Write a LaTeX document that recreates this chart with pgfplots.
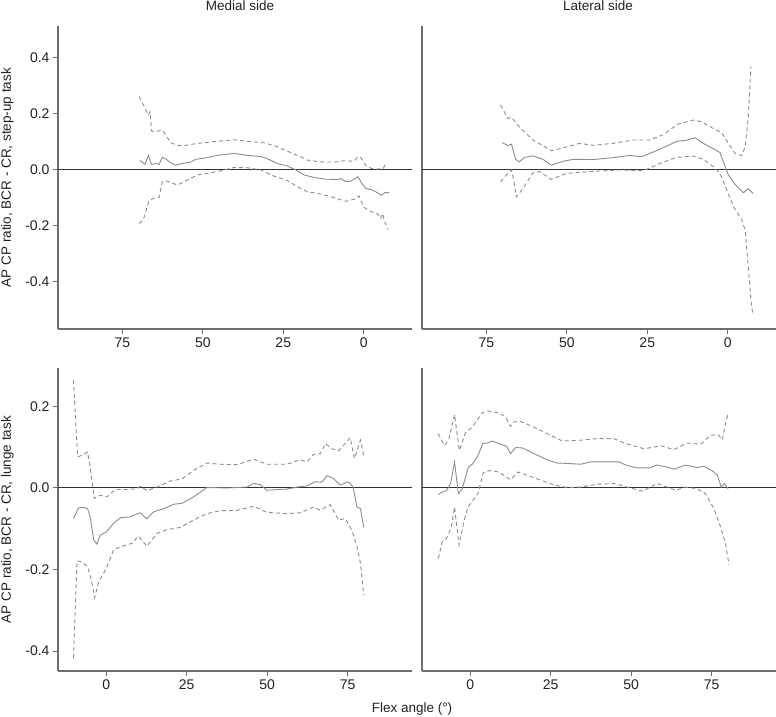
\documentclass[border=0pt]{standalone}
\usepackage{fontspec}
\setmainfont{Liberation Sans}
\usepackage{pgfplots}
\pgfplotsset{compat=1.18}
\definecolor{axc}{HTML}{6E6E6E}
\definecolor{datc}{HTML}{8C8C8C}
\definecolor{zc}{HTML}{333333}
\definecolor{txt}{HTML}{222222}
\pgfplotsset{
  panel/.style={scale only axis, width=354pt, height=303pt, anchor=south west,
    axis lines=left, axis line style={-, draw=axc, line width=1.2pt},
    tick align=outside, major tick length=5pt, tick style={draw=axc, line width=1pt},
    xmin=-15, xmax=95, xtick={0,25,50,75},
    /pgf/number format/assume math mode=true,
    ticklabel style={font=\fontsize{14}{16}\selectfont, text=txt}},
  toprow/.style={x dir=reverse, ymin=-0.570, ymax=0.512},
  botrow/.style={ymin=-0.449, ymax=0.294},
  mean/.style={datc, line width=0.9pt},
  ci/.style={datc, line width=0.9pt, dash pattern=on 4pt off 3pt},
  zero/.style={zc, line width=1pt},
}
\begin{document}
\begin{tikzpicture}
\path[use as bounding box] (0pt,0pt) rectangle (776pt,-716pt);
% ---------------- top left
\begin{axis}[panel, toprow, at={(58pt,-329pt)},
  ytick={-0.4,-0.2,0,0.2,0.4}, yticklabels={-0.4,-0.2,0.0,0.2,0.4}]
\addplot[zero] coordinates {(-15,0) (95,0)};
\addplot[mean] table {
69.5 0.032
68.0 0.018
66.9 0.050
66.0 0.018
64.5 0.021
63.6 0.017
62.6 0.043
61.5 0.037
60.0 0.024
58.4 0.015
56.4 0.021
53.8 0.026
52.2 0.036
49.6 0.040
45.5 0.050
40.3 0.057
36.2 0.050
32.0 0.046
29.9 0.038
26.8 0.021
23.7 0.012
21.1 -0.002
18.5 -0.020
15.4 -0.029
11.8 -0.035
8.2 -0.036
7.1 -0.033
5.6 -0.043
4.0 -0.042
2.8 -0.033
1.8 -0.026
0.7 -0.048
-0.6 -0.068
-2.7 -0.074
-4.2 -0.083
-5.5 -0.093
-6.5 -0.083
-7.9 -0.083
};
\addplot[ci] table {
69.8 0.260
67.7 0.212
66.9 0.194
66.4 0.206
65.9 0.137
64.6 0.135
62.6 0.140
61.5 0.123
60.0 0.095
57.9 0.086
55.8 0.085
51.7 0.093
46.5 0.099
40.3 0.106
36.2 0.100
31.0 0.095
27.9 0.085
23.7 0.065
19.6 0.045
17.5 0.033
13.4 0.027
9.2 0.026
6.1 0.031
3.0 0.029
1.8 0.045
0.9 0.042
-0.6 0.015
-2.2 0.004
-4.2 0.001
-6.1 0.004
-6.8 0.021
};
\addplot[ci] table {
69.8 -0.193
68.5 -0.181
66.7 -0.110
65.2 -0.104
63.6 -0.100
62.6 -0.044
61.0 -0.042
57.9 -0.056
54.8 -0.038
51.7 -0.020
48.6 -0.014
44.4 -0.005
40.3 0.007
36.2 0.006
32.0 -0.002
27.9 -0.024
23.7 -0.040
20.6 -0.062
17.5 -0.080
13.4 -0.088
9.2 -0.101
5.6 -0.114
3.0 -0.107
1.5 -0.095
-0.1 -0.136
-2.2 -0.151
-4.2 -0.157
-5.3 -0.175
-5.8 -0.157
-6.5 -0.187
-7.6 -0.214
};
\end{axis}
% ---------------- top right
\begin{axis}[panel, toprow, at={(422pt,-329pt)}, ytick=\empty]
\addplot[zero] coordinates {(-15,0) (95,0)};
\addplot[mean] table {
70.0 0.095
68.3 0.085
67.2 0.090
65.9 0.036
64.8 0.027
63.1 0.043
60.5 0.048
57.4 0.036
54.8 0.015
51.1 0.029
48.0 0.036
41.8 0.035
35.6 0.042
30.4 0.050
26.8 0.045
22.1 0.067
17.9 0.089
15.9 0.100
12.8 0.104
10.2 0.113
7.6 0.093
4.5 0.074
2.4 0.060
0.8 0.010
-0.2 -0.020
-2.3 -0.054
-4.9 -0.083
-6.4 -0.069
-7.8 -0.086
};
\addplot[ci] table {
70.6 0.230
68.3 0.182
67.2 0.186
64.6 0.150
60.5 0.105
54.8 0.067
51.1 0.077
46.0 0.093
41.8 0.086
35.6 0.093
29.4 0.105
24.2 0.105
20.0 0.124
15.4 0.162
10.7 0.176
8.1 0.170
4.5 0.146
1.9 0.131
-0.2 0.093
-2.3 0.057
-4.4 0.049
-5.4 0.081
-6.4 0.188
-7.2 0.367
};
\addplot[ci] table {
70.6 -0.044
68.3 -0.014
67.2 -0.002
66.5 -0.038
65.7 -0.098
63.6 -0.068
60.5 -0.012
58.4 -0.008
54.8 -0.036
50.1 -0.014
41.8 -0.007
33.5 -0.002
26.2 -0.005
21.1 0.021
15.9 0.043
10.7 0.048
7.6 0.036
4.5 0.010
2.4 -0.014
0.3 -0.074
-1.8 -0.133
-4.4 -0.181
-5.4 -0.217
-6.4 -0.348
-7.2 -0.467
-7.8 -0.520
};
\end{axis}
% ---------------- bottom left
\begin{axis}[panel, botrow, at={(58pt,-671pt)},
  ytick={-0.4,-0.2,0,0.2}, yticklabels={-0.4,-0.2,0.0,0.2}]
\addplot[zero] coordinates {(-15,0) (95,0)};
\addplot[mean] table {
-10.2 -0.075
-8.6 -0.049
-7.0 -0.048
-5.8 -0.051
-5.0 -0.071
-3.9 -0.128
-2.9 -0.138
-1.9 -0.116
0.0 -0.108
2.3 -0.087
4.4 -0.073
7.5 -0.071
9.5 -0.064
10.6 -0.061
12.6 -0.076
14.7 -0.059
17.8 -0.051
20.9 -0.040
23.5 -0.038
27.1 -0.022
31.3 0.001
37.5 0.000
43.7 0.002
45.8 0.011
47.9 0.008
49.9 -0.006
53.0 -0.004
56.1 -0.003
59.3 0.002
62.4 0.005
64.9 0.015
67.0 0.014
68.6 0.030
70.6 0.023
72.7 0.007
75.3 0.015
76.7 0.002
77.9 -0.047
79.0 -0.051
80.0 -0.097
};
\addplot[ci] table {
-10.2 0.264
-8.9 0.076
-7.6 0.080
-5.8 0.088
-5.0 0.051
-3.7 -0.026
-1.9 -0.018
0.2 -0.022
2.8 -0.004
6.4 -0.004
9.5 -0.002
10.6 0.004
12.6 -0.007
15.7 0.002
19.9 0.017
23.5 0.022
27.1 0.043
31.3 0.061
35.4 0.058
40.6 0.057
45.8 0.070
49.9 0.058
56.1 0.058
60.3 0.069
62.4 0.064
64.4 0.082
66.5 0.084
68.1 0.109
70.1 0.096
72.2 0.091
75.8 0.123
77.1 0.072
79.0 0.117
80.0 0.078
};
\addplot[ci] table {
-10.2 -0.418
-9.1 -0.179
-7.6 -0.181
-5.8 -0.193
-4.5 -0.230
-3.6 -0.269
-2.4 -0.230
0.0 -0.198
2.3 -0.151
5.4 -0.142
8.0 -0.136
10.0 -0.118
12.6 -0.143
15.7 -0.112
18.9 -0.102
23.0 -0.097
27.1 -0.079
31.3 -0.063
35.4 -0.056
40.6 -0.055
45.8 -0.045
49.9 -0.060
56.1 -0.063
60.3 -0.061
64.4 -0.047
66.5 -0.055
69.6 -0.041
72.2 -0.079
74.3 -0.075
76.3 -0.104
77.9 -0.144
79.0 -0.185
80.0 -0.263
};
\end{axis}
% ---------------- bottom right
\begin{axis}[panel, botrow, at={(422pt,-671pt)}, ytick=\empty]
\addplot[zero] coordinates {(-15,0) (95,0)};
\addplot[mean] table {
-9.9 -0.016
-8.7 -0.010
-7.4 -0.007
-6.1 0.011
-4.9 0.064
-3.7 -0.014
-2.5 -0.002
-0.6 0.051
0.6 0.058
2.2 0.076
3.9 0.109
5.3 0.110
6.8 0.115
8.9 0.109
11.3 0.102
12.5 0.084
14.1 0.099
16.2 0.098
19.8 0.084
23.9 0.069
27.0 0.061
30.1 0.060
34.3 0.058
37.4 0.064
41.5 0.064
46.2 0.064
48.3 0.056
51.9 0.049
55.8 0.049
57.9 0.056
61.2 0.051
63.3 0.046
66.9 0.056
70.5 0.050
72.6 0.053
75.2 0.042
76.8 0.031
78.0 0.002
79.0 0.011
80.1 -0.002
};
\addplot[ci] table {
-10.0 0.133
-8.0 0.104
-6.6 0.121
-4.9 0.180
-3.4 0.092
-1.5 0.135
0.6 0.149
3.7 0.184
5.3 0.189
8.9 0.184
11.0 0.174
12.5 0.151
13.6 0.162
15.6 0.163
19.8 0.149
23.9 0.133
28.6 0.115
34.3 0.117
39.5 0.121
44.6 0.121
47.8 0.110
54.0 0.096
59.2 0.103
63.3 0.094
67.4 0.110
71.6 0.107
74.7 0.129
77.0 0.131
78.3 0.118
79.3 0.158
80.1 0.182
};
\addplot[ci] table {
-9.9 -0.173
-8.7 -0.132
-7.4 -0.124
-5.9 -0.096
-4.9 -0.047
-3.5 -0.140
-2.0 -0.083
-0.7 -0.047
0.9 -0.030
2.4 -0.014
4.0 0.037
6.3 0.043
8.9 0.039
12.5 0.020
14.8 0.039
17.7 0.031
21.9 0.019
26.0 0.007
30.1 0.001
34.3 0.002
39.5 0.009
44.6 0.011
48.8 0.002
53.5 -0.008
58.1 0.011
61.2 0.002
63.8 -0.006
66.9 0.002
70.5 -0.002
73.1 -0.014
75.7 -0.051
77.8 -0.096
79.3 -0.136
80.4 -0.189
};
\end{axis}
% ---------------- labels
\begin{scope}[every node/.style={font=\fontsize{13.5}{16}\selectfont, text=txt}]
\node[anchor=base] at (240pt,-10pt) {Medial side};
\node[anchor=base] at (598pt,-10pt) {Lateral side};
\node[rotate=90] at (7.5pt,-177.5pt) {AP CP ratio, BCR - CR, step-up task};
\node[rotate=90] at (7.5pt,-519.5pt) {AP CP ratio, BCR - CR, lunge task};
\node[anchor=base] at (412pt,-712pt) {Flex angle (°)};
\end{scope}
\end{tikzpicture}
\end{document}
